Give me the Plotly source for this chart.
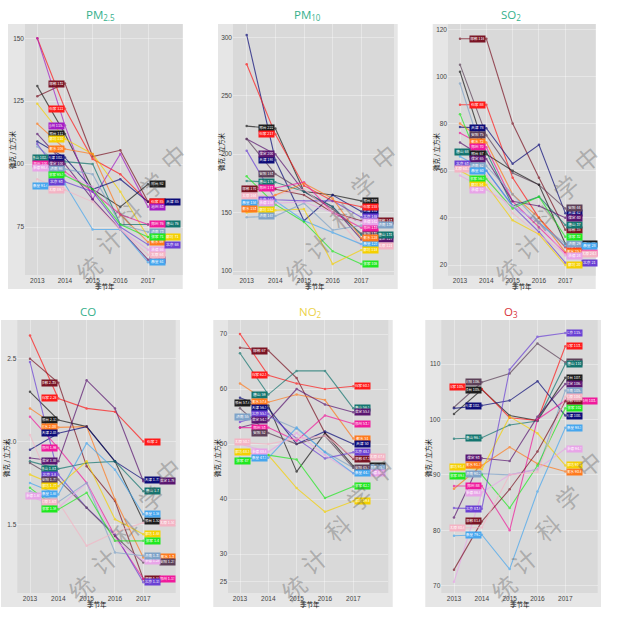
import plotly.graph_objects as go

years = [2013, 2014, 2015, 2016, 2017]

colors = {
    "邯郸": "#7a1424", "石家庄": "#ff1a1a", "衡水": "#ff7a1c", "廊坊": "#f5d000",
    "张家口": "#1fe81f", "唐山": "#13756f", "秦皇岛": "#46a6ee", "天津": "#0c0c78",
    "沧州": "#a31cc4", "保定": "#5a1670", "郑州": "#f01a9c", "承德": "#e8a4e8",
    "太原": "#f4b4c4", "济南": "#7fa3c8", "邢台": "#1c1c1c", "北京": "#6a40d4",
    "安阳": "#5c4058",
}

# PM2.5
pm25 = {
    "邯郸": [127, 132, 103, 105.5, 85],
    "石家庄": [150, 122, 102, 96, 85],
    "邢台": [131, 112, 90, 83, 92],
    "沧州": [150, 115.3, 86, 104, 83],
    "廊坊": [124, 110, 104, 89, 71],
    "衡水": [116, 106, 104, 80, 69],
    "唐山": [102.6, 101, 100, 76, 76],
    "天津": [109, 102.6, 90, 94, 85],
    "郑州": [100, 97, 89, 80, 76],
    "保定": [112, 100, 86, 74, 62],
    "济南": [107, 98, 96, 76, 73],
    "承德": [98.4, 96, 91, 74, 66],
    "张家口": [103, 95.5, 90, 76, 71],
    "北京": [108, 93, 89, 75, 68],
    "秦皇岛": [91.4, 92, 74, 74, 61],
    "太原": [94, 89.7, 85, 74, 64],
}
pm25_start_2013 = ["唐山", "郑州", "承德", "秦皇岛"]
pm25_second_col = ["天津", "唐山", "廊坊", "北京"]

# PM10
pm10 = {
    "邢台": [224, 222, 168, 165, 160],
    "天津": [302, 195, 143, 165, 151],
    "石家庄": [277, 217, 173, 160, 155],
    "保定": [213, 200, 168, 155, 127],
    "安阳": [213, 183, 168, 153, 132],
    "北京": [203, 161, 160, 160, 146],
    "唐山": [177, 176, 168, 155, 131],
    "郑州": [172, 171, 176, 150, 137],
    "邯郸": [170, 170, 165, 150, 143],
    "太原": [164, 165, 170, 150, 121],
    "秦皇岛": [158, 160, 143, 133, 123],
    "衡水": [153, 165, 175, 162, 128],
    "张家口": [181, 157, 142, 117, 106],
    "廊坊": [150, 152, 153, 106, 118],
    "济南": [146, 147, 158, 135, 139],
    "承德": [160, 158, 159, 150, 142],
}
pm10_start_2013 = ["邯郸", "太原", "秦皇岛", "衡水"]
pm10_second_col = ["邯郸", "唐山", "保定", "太原", "济南"]

# SO2
so2 = {
    "邯郸": [116, 116, 80, 57, 35],
    "石家庄": [88, 88, 57, 40, 27.5],
    "天津": [78.5, 78, 63, 71, 42],
    "安阳": [105, 75, 59, 54, 44],
    "衡水": [80, 72, 50, 40, 25.5],
    "郑州": [76, 70, 47, 36, 25],
    "唐山": [68, 68, 45, 49, 37],
    "邢台": [102, 67, 60, 54, 29],
    "保定": [72, 65, 47, 45, 40],
    "北京": [63, 60, 45, 34, 21],
    "济南": [97, 62, 50, 38, 29],
    "太原": [60.7, 58, 42, 33, 24.5],
    "秦皇岛": [66, 60, 45, 38, 28],
    "张家口": [84, 56.5, 44, 49, 32],
    "廊坊": [60, 54, 39, 33, 20],
    "承德": [58, 52, 45, 38, 24],
}
so2_start_2013 = ["唐山", "北京", "太原"]
so2_second_col = ["郑州", "邢台", "北京", "太原", "秦皇岛"]

# CO
co = {
    "石家庄": [2.64, 2.26, 2.2, 2.18, 2.0],
    "邯郸": [2.5, 2.355, 1.85, 1.64, 1.17],
    "邢台": [2.3, 2.13, 2.09, 1.88, 1.52],
    "衡水": [2.2, 2.085, 2.09, 1.65, 1.3],
    "天津": [1.95, 2.05, 2.09, 1.88, 1.77],
    "郑州": [2.15, 1.96, 1.75, 1.43, 1.17],
    "保定": [1.9, 1.88, 2.37, 2.2, 1.76],
    "唐山": [1.88, 1.835, 1.87, 1.88, 1.7],
    "北京": [2.48, 1.8, 1.6, 1.44, 1.15],
    "安阳": [1.87, 1.77, 1.6, 1.43, 1.27],
    "廊坊": [1.8, 1.73, 1.88, 1.53, 1.44],
    "秦皇岛": [1.75, 1.68, 1.99, 1.83, 1.56],
    "承德": [1.67, 1.6, 1.75, 1.4, 1.28],
    "济南": [1.7, 1.635, 1.75, 1.33, 1.31],
    "太原": [2.04, 1.635, 1.37, 1.45, 1.51],
    "张家口": [1.72, 1.59, 1.69, 1.4, 1.4],
}
co_start_2013 = ["承德"]
co_second_col = ["衡水", "郑州", "保定", "安阳", "太原"]

# NO2
no2 = {
    "邯郸": [67.5, 67, 62, 52, 47.3],
    "石家庄": [70, 62.5, 61, 60, 60.5],
    "唐山": [66.5, 59, 63.3, 63.3, 56.5],
    "衡水": [61, 57.6, 59, 58, 51],
    "邢台": [57.4, 57, 45, 52, 46],
    "天津": [58.4, 56.5, 50, 52.3, 50],
    "济南": [55, 55, 52.8, 48.6, 45.7],
    "北京": [54, 55.5, 51, 47.4, 48.5],
    "保定": [53, 54.3, 60, 57.2, 55.8],
    "郑州": [53, 53, 50.6, 55.2, 53.7],
    "安阳": [56.5, 52, 50, 51.5, 45.7],
    "太原": [50.3, 50, 51, 51.5, 47.6],
    "承德": [50, 48.6, 52, 48, 44.7],
    "廊坊": [48.5, 48, 42, 37.7, 39.6],
    "张家口": [47, 48, 47.2, 40.2, 42.3],
    "秦皇岛": [47.5, 47.5, 53, 48.5, 44.7],
}
no2_start_2013 = ["邢台", "济南", "太原", "廊坊", "张家口"]
no2_second_col = ["邢台", "太原", "承德", "济南"]

# O3
o3 = {
    "安阳": [102.2, 106.7, 108.3, 113.7, 110.3],
    "邢台": [101, 105.4, 100.7, 99.8, 107.5],
    "石家庄": [105.8, 105.5, 100.3, 99.8, 113.2],
    "天津": [102, 102.5, 103.4, 106.9, 100.7],
    "唐山": [96.5, 96.7, 99, 99.7, 110],
    "保定": [82.3, 93, 92.5, 100.5, 106.4],
    "衡水": [87.5, 91.7, 95, 92, 90.6],
    "廊坊": [91.4, 91, 100.5, 97.5, 91.7],
    "济南": [90, 90.2, 90, 91, 105.2],
    "张家口": [89.8, 90, 84, 91.7, 102],
    "郑州": [88, 88, 80, 100, 103.4],
    "承德": [70.7, 86.8, 90, 91, 94.7],
    "北京": [84, 83.9, 109, 114.9, 115.6],
    "邯郸": [72.9, 81.6, 87.4, 94.2, 103.3],
    "太原": [80.4, 80.5, 90, 90.5, 104.1],
    "秦皇岛": [79, 79.2, 73, 87, 98.5],
}
o3_start_2013 = ["石家庄", "廊坊", "张家口", "太原"]
o3_second_col = ["郑州"]

W, H = 628, 620


def px_x(v):
    return v / W


def px_y(v):
    return 1 - v / H


def page_text(text, x, y, font, angle=0):
    # anchors must be explicit, auto shifts text near the page edges
    return dict(text=text, xref="paper", yref="paper", x=px_x(x), y=px_y(y), xanchor="center", yanchor="middle",
                showarrow=False, textangle=angle, font=font)


# outer box, plot box, x and y calibration are all in reference pixels
panels = [
    dict(data=pm25, first=pm25_start_2013, col2=pm25_second_col, title="PM<sub>2.5</sub>", tcolor="#35b08c", tpos=(100, 15),
         outer=(8, 24, 182.7, 289), box=(25, 24, 182.7, 275), xcal=(37.3, 148), ycal=(150, 38.3, 75, 227),
         ticks=[75, 100, 125, 150], fmt=None, xt=(105, 286), yt=(12, 150)),
    dict(data=pm10, first=pm10_start_2013, col2=pm10_second_col, title="PM<sub>10</sub>", tcolor="#35b08c", tpos=(307, 15),
         outer=(218, 24, 397.7, 289), box=(233, 24, 394, 275), xcal=(246.7, 361.3), ycal=(300, 37.3, 100, 271),
         ticks=[100, 150, 200, 250, 300], fmt=None, xt=(315, 286), yt=(221, 152)),
    dict(data=so2, first=so2_start_2013, col2=so2_second_col, title="SO<sub>2</sub>", tcolor="#35b08c", tpos=(511, 15),
         outer=(432.7, 24, 595.7, 289), box=(448, 24, 595.7, 275.7), xcal=(460, 565.3), ycal=(120, 29.3, 20, 265),
         ticks=[20, 40, 60, 80, 100, 120], fmt=None, xt=(522, 286), yt=(436, 152)),
    dict(data=co, first=co_start_2013, col2=co_second_col, title="CO", tcolor="#35b08c", tpos=(88, 312),
         outer=(1, 320, 180, 607), box=(17.3, 320, 175.7, 593), xcal=(30, 143.3), ycal=(2.5, 358.7, 1.5, 524.3),
         ticks=[1.5, 2.0, 2.5], fmt=".1f", xt=(97, 604), yt=(6, 458)),
    dict(data=no2, first=no2_start_2013, col2=no2_second_col, title="NO<sub>2</sub>", tcolor="#ecd24a", tpos=(310, 312),
         outer=(213.3, 320, 392.7, 607), box=(228, 320, 388.3, 593), xcal=(240, 353.3), ycal=(70, 334, 25, 581.7),
         ticks=[25, 30, 40, 50, 60, 70], fmt=None, xt=(310, 604), yt=(217, 458)),
    dict(data=o3, first=o3_start_2013, col2=o3_second_col, title="O<sub>3</sub>", tcolor="#d8343a", tpos=(511, 312),
         outer=(425.3, 320, 601, 607), box=(441.3, 320, 597.7, 593), xcal=(454, 565.3), ycal=(110, 364, 70, 585.7),
         ticks=[70, 80, 90, 100, 110], fmt=None, xt=(520, 604), yt=(428, 458)),
]

fig = go.Figure()
annotations = []
shapes = []
tick_font = dict(size=6.5, color="#444", family="Liberation Sans Narrow, Liberation Sans")
axis_font = dict(size=6.5, color="#111", family="Noto Sans CJK SC")

for i, p in enumerate(panels):
    n = "" if i == 0 else str(i + 1)
    left, top, right, bottom = p["box"]
    step = (p["xcal"][1] - p["xcal"][0]) / 4
    xr = [2013 + (left - p["xcal"][0]) / step, 2017 + (right - p["xcal"][1]) / step]
    v1, y1, v2, y2 = p["ycal"]
    per_px = (v1 - v2) / (y2 - y1)
    yr = [v1 - (bottom - y1) * per_px, v1 + (y1 - top) * per_px]

    fig.update_layout({
        "xaxis" + n: dict(domain=[px_x(left), px_x(right)], range=xr, anchor="y" + n, tickvals=years,
                          showgrid=True, gridcolor="rgba(255,255,255,0.35)", gridwidth=1, zeroline=False,
                          ticks="", tickfont=tick_font),
        "yaxis" + n: dict(domain=[px_y(bottom), px_y(top)], range=yr, anchor="x" + n, tickvals=p["ticks"],
                          tickformat=p["fmt"], showgrid=True, gridcolor="rgba(255,255,255,0.35)", gridwidth=1, zeroline=False,
                          ticks="", tickfont=tick_font),
    })

    ox0, oy0, ox1, oy1 = p["outer"]
    shapes.append(dict(type="rect", xref="paper", yref="paper", x0=px_x(ox0), x1=px_x(ox1), y0=px_y(oy1), y1=px_y(oy0),
                       fillcolor="#e6e6e6", line_width=0, layer="below"))
    shapes.append(dict(type="rect", xref="paper", yref="paper", x0=px_x(left), x1=px_x(right), y0=px_y(bottom), y1=px_y(top),
                       fillcolor="#d9d9d9", line_width=0, layer="below"))

    annotations.append(page_text(p["title"], p["tpos"][0], p["tpos"][1], dict(size=11.5, color=p["tcolor"], family="Open Sans")))
    annotations.append(page_text("季节年", p["xt"][0], p["xt"][1], axis_font))
    annotations.append(page_text("微克 / 立方米", p["yt"][0], p["yt"][1], axis_font, angle=-90))

    for city, vals in p["data"].items():
        color = colors[city]
        fig.add_trace(go.Scatter(x=years, y=vals, mode="lines+markers", name=city, showlegend=False,
                                 xaxis="x" + n, yaxis="y" + n, opacity=0.7,
                                 line=dict(color=color, width=1.1),
                                 marker=dict(color=color, size=2.5)))

        # labels: one near the start of the line, one at 2017
        label = dict(xref="x" + n, yref="y" + n, showarrow=False, bgcolor=color, borderpad=0.3, width=14, height=5,
                     font=dict(size=3.8, color="#ffffff", family="Noto Sans CJK SC"))
        if city in p["first"]:
            annotations.append(dict(label, x=2013, y=vals[0], text=f"{city[:2]} {vals[0]:g}", xanchor="center", xshift=3))
        else:
            annotations.append(dict(label, x=2014, y=vals[1], text=f"{city[:2]} {vals[1]:g}", xanchor="right"))
        shift = 16 if city in p["col2"] else 1
        annotations.append(dict(label, x=2017, y=vals[4], text=f"{city[:2]} {vals[4]:g}", xanchor="left", xshift=shift))

# watermark
watermark = [
    ("统", 88, 268), ("计", 108, 240), ("科", 128, 213), ("学", 152, 185), ("中", 173, 157),
    ("统", 297, 270), ("计", 317, 245), ("科", 342, 215), ("学", 363, 185), ("中", 384, 157),
    ("统", 507, 270), ("计", 527, 245), ("科", 542, 217), ("学", 565, 187), ("中", 586, 158),
    ("统", 80, 587), ("计", 103, 560), ("科", 125, 530), ("学", 150, 497), ("中", 167, 470),
    ("统", 293, 587), ("计", 313, 560), ("科", 337, 527), ("学", 358, 497), ("中", 380, 470),
    ("统", 503, 587), ("计", 523, 560), ("科", 547, 527), ("学", 567, 497), ("中", 588, 463),
]
for ch, x, y in watermark:
    annotations.append(page_text(ch, x, y, dict(size=24, color="rgba(90,90,90,0.36)", family="Noto Sans CJK SC"), angle=-40))

fig.update_layout(width=W, height=H, margin=dict(l=0, r=0, t=0, b=0), paper_bgcolor="white", plot_bgcolor="rgba(0,0,0,0)",
                  showlegend=False, annotations=annotations, shapes=shapes)

# the page keeps its default 8px body margin otherwise
fig.write_html("out.html", config={"displayModeBar": False}, post_script="document.body.style.margin='0';")
